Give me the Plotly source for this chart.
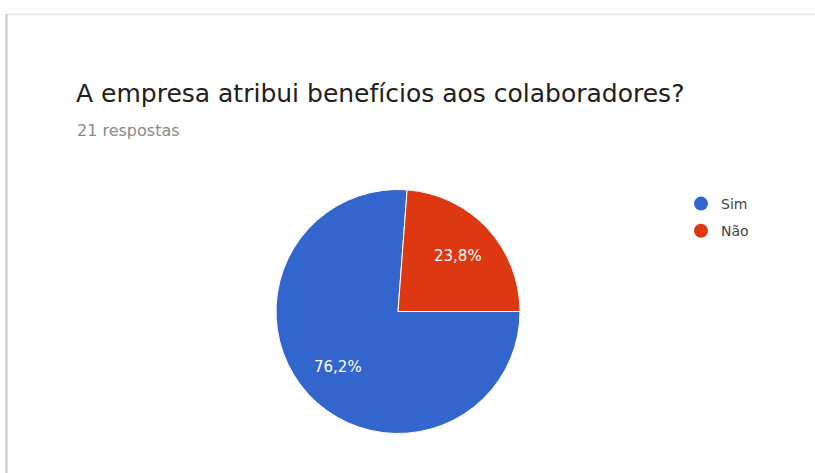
import math
import plotly.graph_objects as go

# Survey answers
categories = ["Sim", "Não"]
counts = [16, 5]
colors = ["#3366CC", "#DC3912"]

title_text = "A empresa atribui benefícios aos colaboradores?"
subtitle_text = "21 respostas"

W, H = 815, 473
FONT = "DejaVu Sans, Roboto, Arial, sans-serif"

# Pie geometry (pixels)
cx, cy, R = 398, 311.5, 122
start_deg = 90  # first slice begins at 3 o'clock, running clockwise

fig = go.Figure()

fig.add_trace(go.Pie(
    labels=categories,
    values=counts,
    sort=False,
    direction="clockwise",
    rotation=start_deg,
    marker=dict(colors=colors, line=dict(color="#FFFFFF", width=1)),
    textinfo="none",
    showlegend=False,
    hoverinfo="label+value+percent",
    domain=dict(x=[(cx - R) / W, (cx + R) / W],
                y=[1 - (cy + R) / H, 1 - (cy - R) / H]),
))

# Percentage labels placed on each slice's bisector
total = sum(counts)
annotations = []
angle = start_deg
for v in counts:
    sweep = 360 * v / total
    mid = math.radians(angle + sweep / 2)
    px = cx + 0.67 * R * math.sin(mid)
    py = cy - 0.67 * R * math.cos(mid)
    annotations.append(dict(
        text=f"{100 * v / total:.1f}%".replace(".", ","),
        xref="paper", yref="paper", x=px / W, y=1 - py / H,
        xanchor="center", yanchor="middle", showarrow=False,
        font=dict(family=FONT, size=15, color="#FFFFFF"),
    ))
    angle += sweep

annotations.append(dict(
    text=subtitle_text, xref="paper", yref="paper",
    x=75 / W, y=1 - 130 / H, xanchor="left", yanchor="middle",
    showarrow=False,
    font=dict(family=FONT, size=16, color="#8A8A8A"),
))

# Circular legend markers, one entry per category
for name, col in zip(categories, colors):
    fig.add_trace(go.Scatter(
        x=[None], y=[None], mode="markers", name=name, legendgroup=name,
        marker=dict(symbol="circle", size=14, color=col),
        showlegend=True,
    ))

fig.update_layout(
    width=W, height=H,
    margin=dict(l=0, r=0, t=0, b=0),
    paper_bgcolor="#FFFFFF",
    plot_bgcolor="#FFFFFF",
    separators=",.",
    xaxis=dict(visible=False),
    yaxis=dict(visible=False),
    title=dict(
        text=title_text,
        x=76 / W, xanchor="left",
        y=1 - 102 / H, yanchor="bottom", yref="container",
        font=dict(family=FONT, size=25, color="#202020"),
        pad=dict(l=0, r=0, t=0, b=0),
    ),
    annotations=annotations,
    legend=dict(
        x=681 / W, y=1 - 188 / H, xanchor="left", yanchor="top",
        font=dict(family=FONT, size=14, color="#444444"),
        bgcolor="rgba(0,0,0,0)",
        tracegroupgap=6,
        itemwidth=30,
    ),
    shapes=[
        # card outline
        dict(type="line", xref="paper", yref="paper",
             x0=6 / W, x1=1.01, y0=1 - 14.5 / H, y1=1 - 14.5 / H,
             line=dict(color="#E6E6E6", width=1.5)),
        dict(type="line", xref="paper", yref="paper",
             x0=6.5 / W, x1=6.5 / W, y0=1 - 14 / H, y1=-0.01,
             line=dict(color="#C8C8C8", width=2)),
    ],
)

fig.write_html("out.html")
